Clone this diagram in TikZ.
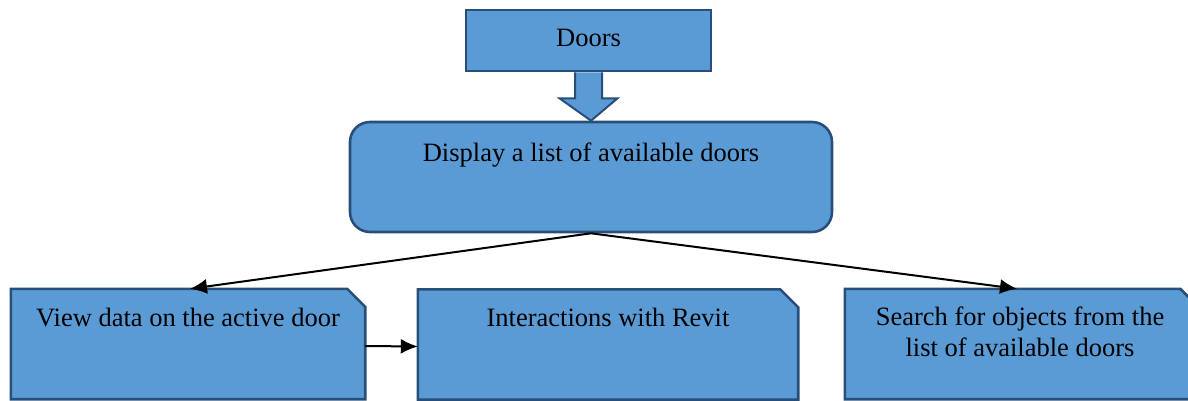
\documentclass[tikz,border=0pt]{standalone}
\usepackage{fontspec}
\setmainfont{Liberation Serif}
\usetikzlibrary{arrows.meta}

\definecolor{boxfill}{RGB}{91,155,213}
\definecolor{boxline}{RGB}{40,78,122}

\begin{document}
\begin{tikzpicture}[x=1pt,y=-1pt,
  box/.style={draw=boxline,fill=boxfill,line width=2.6pt,inner sep=0pt},
  area/.style={inner sep=0pt,minimum height=110pt},
  cut/.style={box,line join=miter},
  txt/.style={font=\fontsize{26.5}{31}\selectfont,align=center},
  link/.style={line width=2pt,-{Latex[length=17pt,width=15pt]}}]
  \useasboundingbox (0,0) rectangle (1188,401);
  \node[box,minimum width=245pt,minimum height=61pt] (doors) at (588.5,40.5) {};
  \node[box,rounded corners=20pt,minimum width=482pt,minimum height=110pt] (disp) at (591,177) {};
  \node[area,minimum width=354pt] (view) at (188,344) {};
  \node[area,minimum width=380pt] (revit) at (608,344.5) {};
  \node[area,minimum width=353pt] (search) at (1021.5,344) {};
  % snipped boxes
  \foreach \b in {view,revit,search}
    \draw[cut] (\b.south west) |- ([xshift=-18pt]\b.north east)
      -- ([yshift=-18pt]\b.north east) |- cycle;
  % text
  \node[txt] (doorst) at (588.5,38) {Doors};
  \node[txt] (dispt) at (591,155) {Display a list of available doors};
  \node[txt] (viewt) at (188,318) {View data on the active door};
  \node[txt] (revitt) at (608,317) {Interactions with Revit};
  \node[txt] (searcht) at (1020,332) {Search for objects from the\\list of available doors};
  % block arrow
  \draw[box,line width=2pt,line join=miter] ([xshift=-13.5pt]doors.south)
    -- ([xshift=-13.5pt,yshift=-26pt]doors.south) -- ([xshift=-29pt,yshift=-26pt]doors.south)
    -- (disp.north) -- ([xshift=29pt,yshift=-26pt]doors.south)
    -- ([xshift=13.5pt,yshift=-26pt]doors.south) -- ([xshift=13.5pt]doors.south);
  % links
  \draw[link] (disp.south) -- ([xshift=2pt]view.north);
  \draw[link] (disp.south) -- ([xshift=-4.5pt]search.north);
  \draw[link] ([yshift=-2pt]view.east) -- ([yshift=-2pt]revit.west);
\end{tikzpicture}
\end{document}
